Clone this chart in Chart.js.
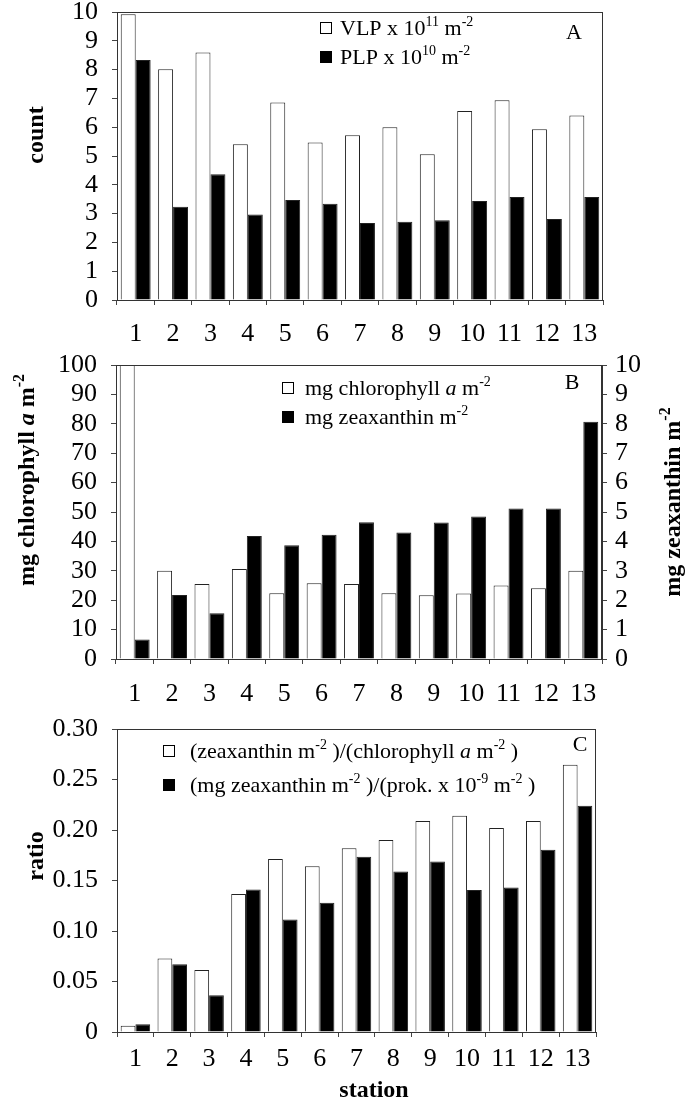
<!DOCTYPE html>
<html>
<head>
<meta charset="utf-8">
<script src="https://cdn.jsdelivr.net/npm/chart.js@4.4.1/dist/chart.umd.min.js"></script>
<style>
  html, body { margin: 0; padding: 0; background: #fff; }
  #wrap { position: relative; width: 696px; height: 1099px; }
  canvas { position: absolute; left: 0; }
</style>
</head>
<body>
<div id="wrap">
  <canvas id="chartA" width="696" height="345" style="top:0px"></canvas>
  <canvas id="chartB" width="696" height="360" style="top:345px"></canvas>
  <canvas id="chartC" width="696" height="394" style="top:705px"></canvas>
</div>
<script>
// stations along the x axis (shared by all three panels)
const stations = ['1', '2', '3', '4', '5', '6', '7', '8', '9', '10', '11', '12', '13'];

// panel A: counts
const vlpCount = [9.92, 8.01, 8.59, 5.41, 6.86, 5.47, 5.72, 6.0, 5.06, 6.56, 6.94, 5.93, 6.41];
const plpCount = [8.33, 3.24, 4.37, 2.97, 3.47, 3.34, 2.67, 2.72, 2.77, 3.44, 3.58, 2.81, 3.58];

// panel B: pigments (chlorophyll on left axis, zeaxanthin on right axis)
const chlorophyll = [100, 30.0, 25.5, 30.6, 22.4, 25.8, 25.5, 22.4, 21.7, 22.3, 25.0, 24.1, 30.0];
const zeaxanthin = [0.66, 2.18, 1.56, 4.18, 3.87, 4.23, 4.65, 4.30, 4.64, 4.85, 5.12, 5.12, 8.07];

// panel C: ratios
const ratioChl = [0.0063, 0.0728, 0.0615, 0.1366, 0.1713, 0.164, 0.182, 0.190, 0.209, 0.214, 0.202, 0.209, 0.2646];
const ratioProk = [0.0076, 0.067, 0.0364, 0.141, 0.1115, 0.128, 0.1736, 0.159, 0.1687, 0.1406, 0.143, 0.1805, 0.224];

// labels; ^..^ = superscript, *..* = italic
const legendA = ['VLP x 10^11^ m^-2^', 'PLP x 10^10^ m^-2^'];
const legendB = ['mg chlorophyll *a* m^-2^', 'mg zeaxanthin m^-2^'];
const legendC = ['(zeaxanthin m^-2^ )/(chlorophyll *a* m^-2^ )', '(mg zeaxanthin m^-2^ )/(prok. x 10^-9^ m^-2^ )'];

const FAMILY = '"Liberation Serif", "Times New Roman", serif';
Chart.defaults.font.family = FAMILY;
Chart.defaults.color = '#000';

function richParts(text) {
    return text.split(/(\^[^^]*\^|\*[^*]*\*)/).filter((s) => s).map((s) => {
        if (s[0] === '^') return { t: s.slice(1, -1), sup: true };
        if (s[0] === '*') return { t: s.slice(1, -1), italic: true };
        return { t: s };
    });
}

function drawRich(ctx, text, x, y, size, bold, align) {
    const parts = richParts(text);
    const fontOf = (p) => `${p.italic ? 'italic ' : ''}${bold ? 'bold ' : ''}${p.sup ? Math.round(size * 0.65) : size}px ${FAMILY}`;
    let width = 0;
    parts.forEach((p) => {
        ctx.font = fontOf(p);
        p.w = ctx.measureText(p.t).width;
        width += p.w;
    });
    let cx = align === 'center' ? x - width / 2 : x;
    const base = y + size * 0.33;
    ctx.textAlign = 'left';
    ctx.textBaseline = 'alphabetic';
    ctx.fillStyle = '#000';
    parts.forEach((p) => {
        ctx.font = fontOf(p);
        ctx.fillText(p.t, cx, p.sup ? base - size * 0.4 : base);
        cx += p.w;
    });
}

// frame, legend, panel letter and axis titles
const decor = {
    id: 'decor',
    afterDraw(chart, args, opts) {
        const ctx = chart.ctx;
        const area = chart.chartArea;
        ctx.save();
        ctx.strokeStyle = '#333';
        ctx.lineWidth = 1;
        ctx.strokeRect(Math.round(area.left) + 0.5, Math.round(area.top) + 0.5,
            Math.round(area.right - area.left) - 1, Math.round(area.bottom - area.top));

        chart.data.datasets.forEach((ds, i) => {
            const cy = opts.legendY + i * opts.legendGap;
            ctx.fillStyle = ds.backgroundColor;
            ctx.fillRect(opts.legendX, cy - 6, 12, 12);
            ctx.strokeStyle = '#000';
            ctx.strokeRect(opts.legendX + 0.5, cy - 6 + 0.5, 11, 11);
            drawRich(ctx, ds.label, opts.legendX + opts.textGap, cy, 22, false, 'left');
        });

        ctx.font = `22px ${FAMILY}`;
        ctx.textAlign = 'center';
        ctx.textBaseline = 'middle';
        ctx.fillStyle = '#000';
        ctx.fillText(opts.letter.text, opts.letter.x, opts.letter.y);

        opts.titles.forEach((t) => {
            ctx.save();
            ctx.translate(t.x, t.y);
            if (t.rotate) ctx.rotate(-Math.PI / 2);
            drawRich(ctx, t.text, 0, 0, 24, true, 'center');
            ctx.restore();
        });
        ctx.restore();
    },
};

function stationAxis(height, pad) {
    return {
        type: 'category',
        offset: true,
        grid: { display: true, drawOnChartArea: false, offset: true, tickLength: 5, color: '#444' },
        border: { display: true, color: '#333' },
        ticks: { font: { size: 26, lineHeight: 1 }, color: '#000', padding: pad, maxRotation: 0, autoSkip: false },
        afterFit: (scale) => {
            scale.height = height;
            scale.paddingLeft = 0;
            scale.paddingRight = 0;
        },
    };
}

function valueAxis(position, max, step, width, pad, format) {
    return {
        position,
        min: 0,
        max,
        grid: { drawOnChartArea: false, tickLength: 5, color: '#444' },
        border: { display: true, color: '#333' },
        ticks: {
            stepSize: step,
            autoSkip: false,
            font: { size: 26, lineHeight: 1 },
            color: '#000',
            padding: pad,
            callback: format,
        },
        afterFit: (scale) => {
            scale.width = width;
            scale.paddingTop = 0;
            scale.paddingBottom = 0;
        },
    };
}

function barSet(label, data, fill, axis) {
    const ds = {
        label,
        data,
        backgroundColor: fill,
        borderColor: '#222',
        borderWidth: 1,
        categoryPercentage: 0.8,
        barPercentage: 1.0,
    };
    if (axis) ds.yAxisID = axis;
    return ds;
}

const baseOptions = {
    responsive: false,
    animation: false,
    devicePixelRatio: 1,
    plugins: { legend: { display: false }, tooltip: { enabled: false } },
};

new Chart(document.getElementById('chartA'), {
    type: 'bar',
    data: {
        labels: stations,
        datasets: [barSet(legendA[0], vlpCount, '#fff'), barSet(legendA[1], plpCount, '#000')],
    },
    options: {
        ...baseOptions,
        layout: { padding: { top: 12, right: 93, left: 0, bottom: 0 } },
        scales: {
            x: stationAxis(45, 16),
            y: valueAxis('left', 10, 1, 117, 14),
        },
        plugins: {
            ...baseOptions.plugins,
            decor: {
                legendX: 320, textGap: 20, legendY: 28, legendGap: 29,
                letter: { text: 'A', x: 574, y: 33 },
                titles: [{ text: 'count', x: 35, y: 135, rotate: true }],
            },
        },
    },
    plugins: [decor],
});

new Chart(document.getElementById('chartB'), {
    type: 'bar',
    data: {
        labels: stations,
        datasets: [
            barSet(legendB[0], chlorophyll, '#fff', 'y'),
            barSet(legendB[1], zeaxanthin, '#000', 'y1'),
        ],
    },
    options: {
        ...baseOptions,
        layout: { padding: { top: 20, right: 0, left: 0, bottom: 0 } },
        scales: {
            x: stationAxis(46, 17),
            y: valueAxis('left', 100, 10, 116, 14),
            y1: valueAxis('right', 10, 1, 94, 8),
        },
        plugins: {
            ...baseOptions.plugins,
            decor: {
                legendX: 282, textGap: 23, legendY: 43, legendGap: 29,
                letter: { text: 'B', x: 572, y: 38 },
                titles: [
                    { text: 'mg chlorophyll *a* m^-2^', x: 26, y: 135, rotate: true },
                    { text: 'mg zeaxanthin m^-2^', x: 672, y: 157, rotate: true },
                ],
            },
        },
    },
    plugins: [decor],
});

new Chart(document.getElementById('chartC'), {
    type: 'bar',
    data: {
        labels: stations,
        datasets: [barSet(legendC[0], ratioChl, '#fff'), barSet(legendC[1], ratioProk, '#000')],
    },
    options: {
        ...baseOptions,
        layout: { padding: { top: 24, right: 100, left: 0, bottom: 0 } },
        scales: {
            x: stationAxis(67, 9),
            y: valueAxis('left', 0.3, 0.05, 117, 14, (v) => (v === 0 ? '0' : v.toFixed(2))),
        },
        plugins: {
            ...baseOptions.plugins,
            decor: {
                legendX: 163, textGap: 27, legendY: 46, legendGap: 34,
                letter: { text: 'C', x: 580, y: 40 },
                titles: [
                    { text: 'ratio', x: 35, y: 151, rotate: true },
                    { text: 'station', x: 374, y: 384, rotate: false },
                ],
            },
        },
    },
    plugins: [decor],
});
</script>
</body>
</html>
